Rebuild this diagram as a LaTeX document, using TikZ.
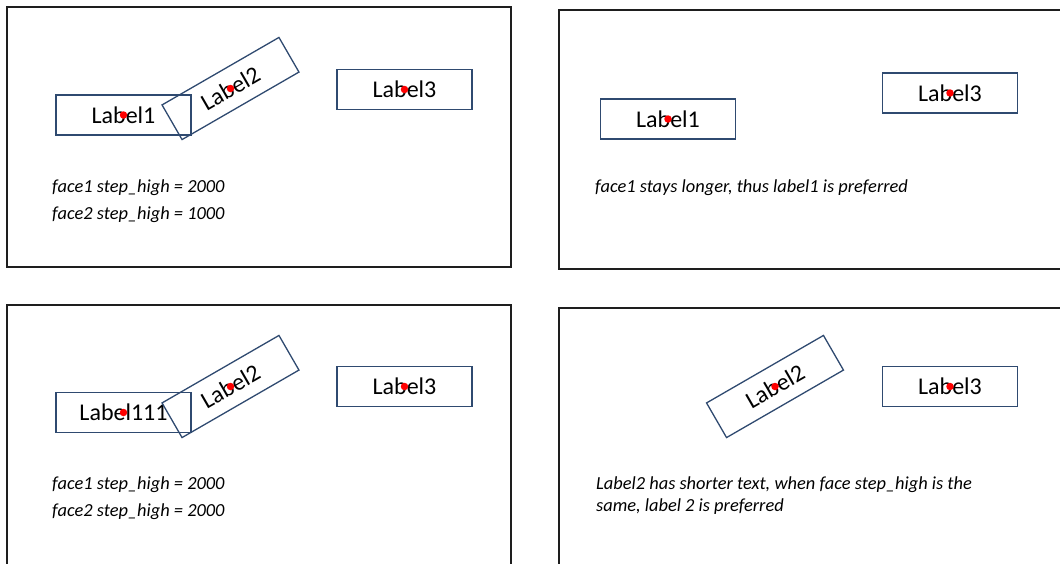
\documentclass[tikz,border=0pt]{standalone}
\usepackage{fontspec}
\setmainfont{Carlito}
\definecolor{boxblue}{HTML}{2F4A70}
\definecolor{framegray}{HTML}{1E1E1E}
\definecolor{dotred}{HTML}{FF0000}
\tikzset{
  panel/.style={draw=framegray, line width=1.6pt},
  labelbox/.style={draw=boxblue, line width=1.3pt, minimum width=135pt,
    minimum height=40pt, inner sep=0pt, font=\fontsize{24}{28}\selectfont},
  anchordot/.style={circle, fill=dotred, inner sep=0pt, minimum size=7.5pt},
  note/.style={anchor=west, inner sep=0pt, align=left,
    font=\fontsize{18.4}{22}\selectfont\itshape}
}
\begin{document}
\begin{tikzpicture}[x=1pt,y=-1pt]
\useasboundingbox (0,0) rectangle (1060,563);

% four panels
\draw[panel] (7,7) rectangle (511,267);
\draw[panel] (559,10) rectangle (1063,269);
\draw[panel] (7,305) rectangle (511,566);
\draw[panel] (559,308) rectangle (1063,569);

% panel 1: overlapping Label1 / Label2
\node[labelbox] (a1) at (123.5,115) {Label1};
\node[labelbox, rotate=30] (a2) at (230.5,88.5) {Label2};
\node[labelbox] (a3) at (404.5,89.5) {Label3};
\node[anchordot] (a1d) at (a1.center) {};
\node[anchordot] (a2d) at (a2.center) {};
\node[anchordot] (a3d) at (a3.center) {};
\node[note] (a4) at (52,188) {face1 step\_high = 2000};
\node[note] (a5) at (52,215) {face2 step\_high = 1000};

% panel 2: result, Label1 kept
\node[labelbox] (b1) at (668,119) {Label1};
\node[labelbox] (b3) at (950,93) {Label3};
\node[anchordot] (b1d) at (b1.center) {};
\node[anchordot] (b3d) at (b3.center) {};
\node[note] (b4) at (595,188) {face1 stays longer, thus label1 is preferred};

% panel 3: overlapping Label111 / Label2
\node[labelbox] (c1) at (123.5,412.5) {Label111};
\node[labelbox, rotate=30] (c2) at (230.5,386.5) {Label2};
\node[labelbox] (c3) at (404.5,386.5) {Label3};
\node[anchordot] (c1d) at (c1.center) {};
\node[anchordot] (c2d) at (c2.center) {};
\node[anchordot] (c3d) at (c3.center) {};
\node[note] (c4) at (52,485) {face1 step\_high = 2000};
\node[note] (c5) at (52,512) {face2 step\_high = 2000};

% panel 4: result, Label2 kept
\node[labelbox, rotate=30] (d2) at (775,386.5) {Label2};
\node[labelbox] (d3) at (950,386.5) {Label3};
\node[anchordot] (d2d) at (d2.center) {};
\node[anchordot] (d3d) at (d3.center) {};
\node[note] (d4) at (596,496) {Label2 has shorter text, when face step\_high is the\\same, label 2 is preferred};
\end{tikzpicture}
\end{document}
